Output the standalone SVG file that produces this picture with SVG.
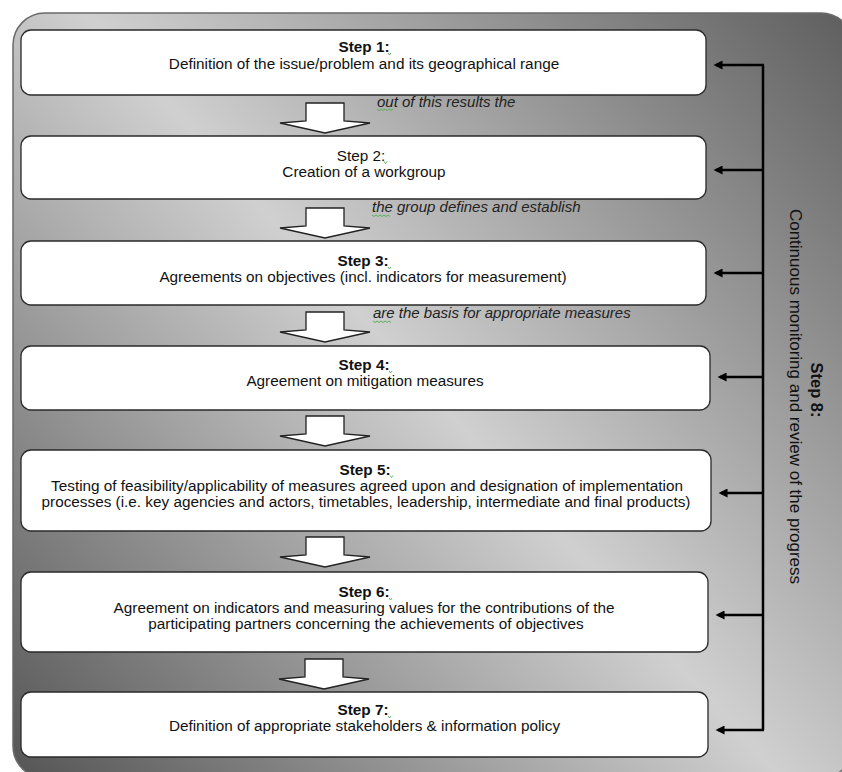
<svg xmlns="http://www.w3.org/2000/svg" xmlns:xlink="http://www.w3.org/1999/xlink" width="842" height="772" viewBox="0 0 842 772">
  <defs>
    <linearGradient id="bg" gradientUnits="userSpaceOnUse" x1="13" y1="775" x2="850" y2="13">
      <stop offset="0" stop-color="#555555"/>
      <stop offset="0.5" stop-color="#d0d0d0"/>
      <stop offset="1" stop-color="#5e5e5e"/>
    </linearGradient>
    <path id="blockArrow" d="M-19,0 H19 V18 L45,20 L0,30 L-45,20 L-19,18 Z" fill="#ffffff" stroke="#222222" stroke-width="1.3" stroke-linejoin="miter"/>
    <marker id="head" viewBox="0 0 10 10" refX="7.3" refY="5" markerWidth="11" markerHeight="9" markerUnits="userSpaceOnUse" orient="auto">
      <path d="M0,0 L10,5 L0,10 Z" fill="#000000"/>
    </marker>
    <style>
      .box { fill: #ffffff; stroke: #2a2a2a; stroke-width: 1.3; }
      .t { font-family: "Liberation Sans", Arial, sans-serif; font-size: 15.3px; fill: #111111; text-anchor: middle; }
      .b { font-weight: bold; }
      .lbl { font-family: "Liberation Sans", Arial, sans-serif; font-size: 15px; font-style: italic; fill: #222222; }
      .conn { fill: none; stroke: #000000; stroke-width: 2.5; }
      .sq { fill: none; stroke: #4caf50; stroke-width: 0.9; }
    </style>
  </defs>

  <rect id="background" x="13" y="13" width="840" height="765" rx="32" ry="32" fill="url(#bg)" stroke="#6a6a6a" stroke-width="1.5"/>

  <g id="flow-arrows">
    <use xlink:href="#blockArrow" href="#blockArrow" x="325" y="103"/>
    <use xlink:href="#blockArrow" href="#blockArrow" x="325" y="208"/>
    <use xlink:href="#blockArrow" href="#blockArrow" x="325" y="312"/>
    <use xlink:href="#blockArrow" href="#blockArrow" x="325" y="416"/>
    <use xlink:href="#blockArrow" href="#blockArrow" x="325" y="537"/>
    <use xlink:href="#blockArrow" href="#blockArrow" x="324" y="659"/>
  </g>

  <g id="labels">
    <text class="lbl" x="377" y="106.5">out of this results the</text>
    <text class="lbl" x="372" y="212">the group defines and establish</text>
    <text class="lbl" x="373" y="318">are the basis for appropriate measures</text>
  </g>

  <g id="step1">
    <rect class="box" x="21" y="30" width="685" height="65" rx="10"/>
    <text class="t b" x="364" y="52">Step 1:</text>
    <text class="t" x="364" y="69">Definition of the issue/problem and its geographical range</text>
  </g>
  <g id="step2">
    <rect class="box" x="21" y="136" width="685" height="63" rx="10"/>
    <text class="t" x="361" y="160.5">Step 2:</text>
    <text class="t" x="364" y="177">Creation of a workgroup</text>
  </g>
  <g id="step3">
    <rect class="box" x="21" y="241" width="685" height="64" rx="10"/>
    <text class="t b" x="363" y="266">Step 3:</text>
    <text class="t" x="363" y="282">Agreements on objectives (incl. indicators for measurement)</text>
  </g>
  <g id="step4">
    <rect class="box" x="21" y="346" width="689" height="64" rx="10"/>
    <text class="t b" x="364" y="370">Step 4:</text>
    <text class="t" x="365" y="386">Agreement on mitigation measures</text>
  </g>
  <g id="step5">
    <rect class="box" x="21" y="450" width="690" height="81" rx="10"/>
    <text class="t b" x="365" y="474.5">Step 5:</text>
    <text class="t" x="367" y="491">Testing of feasibility/applicability of measures agreed upon and designation of implementation</text>
    <text class="t" x="366" y="507">processes (i.e. key agencies and actors, timetables, leadership, intermediate and final products)</text>
  </g>
  <g id="step6">
    <rect class="box" x="21" y="572" width="687" height="80" rx="10"/>
    <text class="t b" x="364" y="597">Step 6:</text>
    <text class="t" x="364" y="613">Agreement on indicators and measuring values for the contributions of the</text>
    <text class="t" x="366" y="629">participating partners concerning the achievements of objectives</text>
  </g>
  <g id="step7">
    <rect class="box" x="21" y="692" width="687" height="65" rx="10"/>
    <text class="t b" x="363" y="715">Step 7:</text>
    <text class="t" x="364.5" y="731">Definition of appropriate stakeholders &amp; information policy</text>
  </g>

  <g id="step8">
    <text class="t b" style="font-size:16.5px" transform="translate(811,390) rotate(90)">Step 8:</text>
    <text class="t" style="font-size:17px" transform="translate(790,396.5) rotate(90)">Continuous monitoring and review of the progress</text>
  </g>

  <g id="connectors">
    <path class="conn" d="M763,65 V730"/>
    <path class="conn" d="M764,65 H716" marker-end="url(#head)"/>
    <path class="conn" d="M764,170 H716" marker-end="url(#head)"/>
    <path class="conn" d="M764,273 H716" marker-end="url(#head)"/>
    <path class="conn" d="M764,377 H720" marker-end="url(#head)"/>
    <path class="conn" d="M764,493 H721" marker-end="url(#head)"/>
    <path class="conn" d="M764,615 H718" marker-end="url(#head)"/>
    <path class="conn" d="M764,730 H718" marker-end="url(#head)"/>
  </g>

  <g id="spellcheck-marks">
    <path class="sq" d="M377,109 l2,1.5 l2,-1.5 l2,1.5 l2,-1.5 l2,1.5 l2,-1.5 l2,1.5 l2,-1.5"/>
    <path class="sq" d="M372,215 l2,1.5 l2,-1.5 l2,1.5 l2,-1.5 l2,1.5 l2,-1.5 l2,1.5 l2,-1.5 l2,1.5"/>
    <path class="sq" d="M373,321 l2,1.5 l2,-1.5 l2,1.5 l2,-1.5 l2,1.5 l2,-1.5 l2,1.5 l2,-1.5 l2,1.5"/>
    <path class="sq" d="M388,53 l1.5,2 l1.5,-2"/>
    <path class="sq" d="M384,161.5 l1.5,2 l1.5,-2"/>
    <path class="sq" d="M388,267 l1.5,2 l1.5,-2"/>
    <path class="sq" d="M389,371 l1.5,2 l1.5,-2"/>
    <path class="sq" d="M390,475.5 l1.5,2 l1.5,-2"/>
    <path class="sq" d="M389,598 l1.5,2 l1.5,-2"/>
    <path class="sq" d="M388,716 l1.5,2 l1.5,-2"/>
  </g>
</svg>
